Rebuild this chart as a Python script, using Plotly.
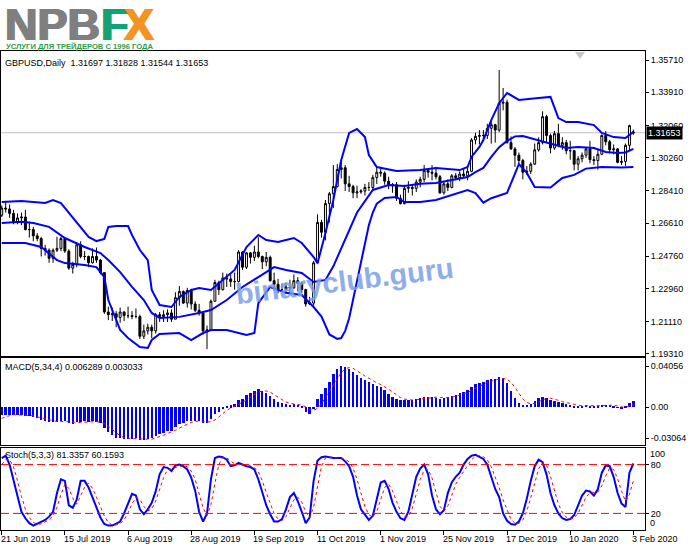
import plotly.graph_objects as go

# ---------------- data ----------------
date_tick_idx = [0, 16, 32, 48, 64, 80, 96, 112, 128, 144, 160]
date_labels = ["21 Jun 2019", "15 Jul 2019", "6 Aug 2019", "28 Aug 2019", "19 Sep 2019",
               "11 Oct 2019", "1 Nov 2019", "25 Nov 2019", "17 Dec 2019", "10 Jan 2020", "3 Feb 2020"]

price_ticks = [1.35710, 1.33910, 1.32060, 1.30260, 1.28410, 1.26610, 1.24760, 1.22960, 1.21110, 1.19310]

ohlc_rows = [
    (1.2705, 1.2760, 1.2695, 1.2745), (1.2745, 1.2785, 1.2720, 1.2740), (1.2740, 1.2765, 1.2690, 1.2715),
    (1.2715, 1.2735, 1.2655, 1.2665), (1.2665, 1.2715, 1.2655, 1.2690), (1.2690, 1.2720, 1.2650, 1.2695),
    (1.2695, 1.2735, 1.2620, 1.2625), (1.2625, 1.2670, 1.2580, 1.2625), (1.2625, 1.2640, 1.2560, 1.2590),
    (1.2590, 1.2605, 1.2560, 1.2575), (1.2575, 1.2585, 1.2475, 1.2520), (1.2520, 1.2540, 1.2480, 1.2510),
    (1.2510, 1.2520, 1.2440, 1.2465), (1.2465, 1.2520, 1.2440, 1.2510), (1.2510, 1.2585, 1.2500, 1.2520),
    (1.2520, 1.2585, 1.2505, 1.2575), (1.2575, 1.2580, 1.2495, 1.2505), (1.2505, 1.2515, 1.2400, 1.2410),
    (1.2410, 1.2445, 1.2380, 1.2430), (1.2430, 1.2555, 1.2415, 1.2540), (1.2540, 1.2560, 1.2465, 1.2475),
    (1.2475, 1.2505, 1.2455, 1.2475), (1.2475, 1.2480, 1.2415, 1.2440), (1.2440, 1.2520, 1.2435, 1.2475),
    (1.2475, 1.2525, 1.2440, 1.2455), (1.2455, 1.2460, 1.2375, 1.2385), (1.2385, 1.2385, 1.2155, 1.2165),
    (1.2165, 1.2195, 1.2120, 1.2150), (1.2150, 1.2190, 1.2115, 1.2155), (1.2155, 1.2170, 1.2080, 1.2135),
    (1.2135, 1.2190, 1.2105, 1.2165), (1.2165, 1.2170, 1.2115, 1.2145), (1.2145, 1.2195, 1.2130, 1.2145),
    (1.2145, 1.2170, 1.2125, 1.2140), (1.2140, 1.2185, 1.2130, 1.2140), (1.2140, 1.2150, 1.2015, 1.2030),
    (1.2030, 1.2095, 1.2015, 1.2060), (1.2060, 1.2100, 1.2040, 1.2080), (1.2080, 1.2095, 1.2020, 1.2060),
    (1.2060, 1.2160, 1.2045, 1.2150), (1.2150, 1.2165, 1.2110, 1.2140), (1.2140, 1.2175, 1.2110, 1.2150),
    (1.2150, 1.2180, 1.2110, 1.2160), (1.2160, 1.2180, 1.2110, 1.2125), (1.2125, 1.2275, 1.2125, 1.2245),
    (1.2245, 1.2310, 1.2200, 1.2280), (1.2280, 1.2285, 1.2210, 1.2215), (1.2215, 1.2300, 1.2190, 1.2285),
    (1.2285, 1.2295, 1.2180, 1.2210), (1.2210, 1.2225, 1.2165, 1.2175), (1.2175, 1.2210, 1.2145, 1.2160),
    (1.2160, 1.2165, 1.2040, 1.2060), (1.2060, 1.2090, 1.1958, 1.2065), (1.2065, 1.2235, 1.2060, 1.2225),
    (1.2225, 1.2345, 1.2225, 1.2330), (1.2330, 1.2340, 1.2260, 1.2290), (1.2290, 1.2385, 1.2285, 1.2355),
    (1.2355, 1.2380, 1.2305, 1.2350), (1.2350, 1.2375, 1.2305, 1.2335), (1.2335, 1.2385, 1.2290, 1.2335),
    (1.2335, 1.2510, 1.2330, 1.2500), (1.2500, 1.2505, 1.2400, 1.2415), (1.2415, 1.2500, 1.2405, 1.2495),
    (1.2495, 1.2500, 1.2435, 1.2470), (1.2470, 1.2535, 1.2450, 1.2500), (1.2500, 1.2582, 1.2465, 1.2475),
    (1.2475, 1.2480, 1.2405, 1.2445), (1.2445, 1.2500, 1.2420, 1.2470), (1.2470, 1.2480, 1.2335, 1.2340),
    (1.2340, 1.2385, 1.2285, 1.2320), (1.2320, 1.2350, 1.2270, 1.2290), (1.2290, 1.2325, 1.2275, 1.2290),
    (1.2290, 1.2330, 1.2265, 1.2305), (1.2305, 1.2345, 1.2260, 1.2300), (1.2300, 1.2375, 1.2295, 1.2340),
    (1.2340, 1.2360, 1.2280, 1.2325), (1.2325, 1.2335, 1.2270, 1.2290), (1.2290, 1.2295, 1.2195, 1.2210),
    (1.2210, 1.2250, 1.2205, 1.2215), (1.2215, 1.2450, 1.2200, 1.2440), (1.2440, 1.2710, 1.2435, 1.2665),
    (1.2665, 1.2680, 1.2580, 1.2610), (1.2610, 1.2790, 1.2565, 1.2770), (1.2770, 1.2835, 1.2665, 1.2825),
    (1.2825, 1.2985, 1.2745, 1.2865), (1.2865, 1.2990, 1.2860, 1.2960), (1.2960, 1.3012, 1.2910, 1.2970),
    (1.2970, 1.2985, 1.2840, 1.2880), (1.2880, 1.2925, 1.2835, 1.2865), (1.2865, 1.2875, 1.2800, 1.2830),
    (1.2830, 1.2870, 1.2800, 1.2835), (1.2835, 1.2850, 1.2825, 1.2840), (1.2840, 1.2880, 1.2815, 1.2860),
    (1.2860, 1.2890, 1.2840, 1.2860), (1.2860, 1.2930, 1.2840, 1.2915), (1.2915, 1.2975, 1.2880, 1.2945),
    (1.2945, 1.2975, 1.2920, 1.2940), (1.2940, 1.2950, 1.2875, 1.2895), (1.2895, 1.2920, 1.2850, 1.2870),
    (1.2870, 1.2885, 1.2830, 1.2875), (1.2875, 1.2890, 1.2785, 1.2800), (1.2800, 1.2820, 1.2765, 1.2770),
    (1.2770, 1.2875, 1.2765, 1.2855), (1.2855, 1.2895, 1.2830, 1.2860), (1.2860, 1.2875, 1.2815, 1.2855),
    (1.2855, 1.2905, 1.2835, 1.2890), (1.2890, 1.2920, 1.2860, 1.2905), (1.2905, 1.2985, 1.2890, 1.2955),
    (1.2955, 1.2965, 1.2915, 1.2945), (1.2945, 1.2985, 1.2900, 1.2940), (1.2940, 1.2975, 1.2905, 1.2920),
    (1.2920, 1.2930, 1.2825, 1.2830), (1.2830, 1.2895, 1.2820, 1.2880), (1.2880, 1.2905, 1.2840, 1.2860),
    (1.2860, 1.2935, 1.2855, 1.2925), (1.2925, 1.2940, 1.2900, 1.2915), (1.2915, 1.2950, 1.2895, 1.2935),
    (1.2935, 1.2965, 1.2915, 1.2925), (1.2925, 1.2980, 1.2900, 1.2950), (1.2950, 1.3135, 1.2945, 1.3125),
    (1.3125, 1.3165, 1.3100, 1.3145), (1.3145, 1.3180, 1.3100, 1.3150), (1.3150, 1.3180, 1.3125, 1.3150),
    (1.3150, 1.3215, 1.3130, 1.3190), (1.3190, 1.3230, 1.3105, 1.3210), (1.3210, 1.3215, 1.3110, 1.3180),
    (1.3180, 1.3515, 1.3170, 1.3330), (1.3330, 1.3415, 1.3290, 1.3335), (1.3335, 1.3350, 1.3105, 1.3110),
    (1.3110, 1.3145, 1.3070, 1.3075), (1.3075, 1.3085, 1.2975, 1.3040), (1.3040, 1.3055, 1.2995, 1.3010),
    (1.3010, 1.3020, 1.2905, 1.2945), (1.2945, 1.2980, 1.2930, 1.2950), (1.2950, 1.3000, 1.2935, 1.2990),
    (1.2990, 1.3105, 1.2985, 1.3070), (1.3070, 1.3140, 1.3060, 1.3110), (1.3110, 1.3285, 1.3100, 1.3255),
    (1.3255, 1.3265, 1.3115, 1.3150), (1.3150, 1.3160, 1.3050, 1.3080), (1.3080, 1.3175, 1.3070, 1.3160),
    (1.3160, 1.3215, 1.3085, 1.3095), (1.3095, 1.3140, 1.3070, 1.3110), (1.3110, 1.3125, 1.3045, 1.3065),
    (1.3065, 1.3120, 1.3015, 1.3065), (1.3065, 1.3070, 1.2955, 1.2990), (1.2990, 1.3035, 1.2955, 1.3020),
    (1.3020, 1.3055, 1.3000, 1.3040), (1.3040, 1.3085, 1.3025, 1.3075), (1.3075, 1.3120, 1.2995, 1.3015),
    (1.3015, 1.3035, 1.2985, 1.3010), (1.3010, 1.3070, 1.2960, 1.3045), (1.3045, 1.3155, 1.3040, 1.3150),
    (1.3150, 1.3175, 1.3095, 1.3115), (1.3115, 1.3125, 1.3050, 1.3070), (1.3070, 1.3100, 1.3045, 1.3075),
    (1.3075, 1.3080, 1.2995, 1.3000), (1.3000, 1.3035, 1.2985, 1.3005), (1.3005, 1.3105, 1.2980, 1.3095),
    (1.3095, 1.3210, 1.3065, 1.3205), (1.31697, 1.31828, 1.31544, 1.31653),
]
opens = [r[0] for r in ohlc_rows]
highs = [r[1] for r in ohlc_rows]
lows = [r[2] for r in ohlc_rows]
closes = [r[3] for r in ohlc_rows]
bar_idx = list(range(len(ohlc_rows)))

bb_upper_idx = [0, 5, 11, 13, 15, 17, 20, 22, 24, 26, 27, 29, 32, 33, 35, 37, 38, 40, 43, 45,
                48, 50, 53, 55, 59, 62, 65, 67, 70, 74, 76, 79, 80, 82, 84, 86, 88, 90, 92, 93,
                95, 100, 106, 110, 116, 118, 119, 121, 122, 124, 126, 128, 131, 136, 139, 141, 143, 146, 150, 152,
                155, 158, 160]
bb_upper = [1.2779, 1.2785, 1.2773, 1.2790, 1.2773, 1.2718, 1.2640, 1.2584, 1.2561, 1.2573,
            1.2640, 1.2645, 1.2645, 1.2595, 1.2511, 1.2455, 1.2288, 1.2204, 1.2193, 1.2249,
            1.2288, 1.2299, 1.2288, 1.2327, 1.2400, 1.2528, 1.2595, 1.2567, 1.2556, 1.2578,
            1.2550, 1.2472, 1.2438, 1.2606, 1.2790, 1.3013, 1.3164, 1.3186, 1.3141, 1.3041,
            1.2974, 1.2952, 1.2957, 1.2969, 1.2957, 1.2974, 1.3030, 1.3086, 1.3125, 1.3236,
            1.3330, 1.3387, 1.3348, 1.3359, 1.3365, 1.3247, 1.3225, 1.3225, 1.3208, 1.3164,
            1.3141, 1.3136, 1.3170]

bb_mid_idx = [0, 5, 8, 12, 16, 21, 25, 27, 30, 33, 36, 38, 40, 45, 50, 53, 57, 61, 65, 69,
              72, 76, 79, 82, 84, 86, 88, 90, 94, 98, 102, 106, 110, 114, 118, 120, 122, 124, 126, 128,
              130, 132, 134, 136, 140, 143, 146, 150, 153, 156, 158, 160]
bb_mid = [1.2662, 1.2668, 1.2662, 1.2640, 1.2578, 1.2528, 1.2494, 1.2455, 1.2388, 1.2305,
          1.2232, 1.2160, 1.2132, 1.2138, 1.2160, 1.2176, 1.2232, 1.2305, 1.2360, 1.2416,
          1.2400, 1.2383, 1.2333, 1.2344, 1.2420, 1.2520, 1.2620, 1.2720, 1.2846, 1.2874,
          1.2868, 1.2880, 1.2885, 1.2902, 1.2918, 1.2946, 1.2969, 1.3030, 1.3085, 1.3120,
          1.3145, 1.3147, 1.3135, 1.3119, 1.3097, 1.3080, 1.3086, 1.3080, 1.3058, 1.3052,
          1.3055, 1.3075]

bb_lower_idx = [0, 6, 10, 14, 16, 21, 24, 26, 27, 30, 32, 35, 37, 38, 40, 45, 48, 51, 53, 57,
                62, 64, 65, 68, 72, 76, 79, 81, 83, 85, 86, 87, 88, 89, 90, 91, 92, 93, 94, 95,
                97, 100, 102, 106, 110, 114, 118, 120, 122, 124, 128, 131, 133, 135, 139, 142, 145, 148, 152, 157,
                160]
bb_lower = [1.2550, 1.2550, 1.2528, 1.2455, 1.2438, 1.2427, 1.2416, 1.2360, 1.2232, 1.2065,
            1.2020, 1.1970, 1.1965, 1.2009, 1.2043, 1.2048, 1.2009, 1.2048, 1.2065, 1.2065,
            1.2037, 1.2048, 1.2215, 1.2305, 1.2272, 1.2260, 1.2193, 1.2140, 1.2040, 1.2015,
            1.2020, 1.2060, 1.2130, 1.2230, 1.2330, 1.2440, 1.2550, 1.2650, 1.2720, 1.2770,
            1.2801, 1.2807, 1.2779, 1.2779, 1.2790, 1.2818, 1.2846, 1.2829, 1.2775, 1.2800,
            1.2830, 1.2990, 1.2941, 1.2863, 1.2860, 1.2913, 1.2930, 1.2965, 1.2974, 1.2972,
            1.2974]

macd_hist = [
    -0.0075, -0.0073, -0.0072, -0.0076, -0.0075, -0.0073, -0.0082, -0.0088, -0.0098, -0.0108,
    -0.0122, -0.0132, -0.0146, -0.0144, -0.0142, -0.0132, -0.0138, -0.0156, -0.0162, -0.0144,
    -0.0142, -0.0140, -0.0144, -0.0140, -0.0142, -0.0156, -0.0205, -0.0245, -0.0275, -0.0300,
    -0.0305, -0.0310, -0.0310, -0.0310, -0.0305, -0.0325, -0.0320, -0.0310, -0.0305, -0.0280,
    -0.0265, -0.0250, -0.0235, -0.0230, -0.0195, -0.0165, -0.0158, -0.0135, -0.0135, -0.0135,
    -0.0135, -0.0158, -0.0160, -0.0115, -0.0065, -0.0045, -0.0015, 0.0005, 0.0018, 0.0028,
    0.0072, 0.0078, 0.0120, 0.0140, 0.0160, 0.0175, 0.0160, 0.0145, 0.0110, 0.0080,
    0.0055, 0.0040, 0.0030, 0.0025, 0.0030, 0.0025, 0.0005, -0.0050, -0.0065, -0.0010,
    0.0080, 0.0130, 0.0190, 0.0250, 0.0330, 0.0380, 0.0405, 0.0400, 0.0375, 0.0350,
    0.0320, 0.0290, 0.0270, 0.0250, 0.0230, 0.0210, 0.0200, 0.0170, 0.0130, 0.0100,
    0.0080, 0.0070, 0.0070, 0.0070, 0.0075, 0.0085, 0.0090, 0.0100, 0.0100, 0.0100,
    0.0095, 0.0085, 0.0090, 0.0105, 0.0110, 0.0125, 0.0140, 0.0150, 0.0170, 0.0200,
    0.0230, 0.0240, 0.0250, 0.0265, 0.0275, 0.0280, 0.0295, 0.0290, 0.0240, 0.0160,
    0.0095, 0.0045, 0.0025, 0.0025, 0.0035, 0.0065, 0.0090, 0.0105, 0.0090, 0.0070,
    0.0060, 0.0050, 0.0040, 0.0030, 0.0025, 0.0015, 0.0010, 0.0015, 0.0020, 0.0015,
    0.0010, 0.0010, 0.0025, 0.0025, 0.0020, 0.0010, -0.0005, -0.0015, 0.0015, 0.0045,
    0.006289,
]
macd_signal = [
    -0.0110, -0.0095, -0.0083, -0.0074, -0.0074, -0.0074, -0.0077, -0.0080, -0.0085, -0.0094,
    -0.0104, -0.0115, -0.0127, -0.0136, -0.0141, -0.0141, -0.0139, -0.0142, -0.0147, -0.0150,
    -0.0151, -0.0147, -0.0143, -0.0142, -0.0142, -0.0146, -0.0161, -0.0187, -0.0220, -0.0256,
    -0.0281, -0.0298, -0.0306, -0.0309, -0.0309, -0.0313, -0.0315, -0.0315, -0.0315, -0.0304,
    -0.0290, -0.0275, -0.0258, -0.0245, -0.0228, -0.0206, -0.0187, -0.0163, -0.0148, -0.0141,
    -0.0135, -0.0141, -0.0147, -0.0142, -0.0125, -0.0096, -0.0060, -0.0030, -0.0009, 0.0009,
    0.0031, 0.0049, 0.0075, 0.0103, 0.0125, 0.0149, 0.0159, 0.0160, 0.0148, 0.0124,
    0.0098, 0.0071, 0.0051, 0.0038, 0.0031, 0.0028, 0.0021, 0.0003, -0.0021, -0.0030,
    -0.0011, 0.0034, 0.0098, 0.0163, 0.0225, 0.0288, 0.0341, 0.0379, 0.0390, 0.0383,
    0.0361, 0.0334, 0.0308, 0.0283, 0.0260, 0.0240, 0.0223, 0.0203, 0.0178, 0.0150,
    0.0120, 0.0095, 0.0080, 0.0073, 0.0071, 0.0075, 0.0080, 0.0088, 0.0094, 0.0098,
    0.0099, 0.0095, 0.0093, 0.0094, 0.0098, 0.0108, 0.0120, 0.0131, 0.0146, 0.0165,
    0.0188, 0.0210, 0.0230, 0.0246, 0.0258, 0.0268, 0.0279, 0.0285, 0.0276, 0.0246,
    0.0196, 0.0135, 0.0081, 0.0048, 0.0033, 0.0038, 0.0054, 0.0074, 0.0088, 0.0089,
    0.0081, 0.0068, 0.0055, 0.0045, 0.0036, 0.0028, 0.0020, 0.0016, 0.0015, 0.0015,
    0.0015, 0.0014, 0.0015, 0.0018, 0.0020, 0.0020, 0.0013, 0.0003, 0.0001, 0.0010,
    0.003033,
]
macd_ticks = [0.04056, 0.0, -0.03064]
macd_tick_text = ["0.04056", "0.00", "-0.03064"]

stoch_k = [
    88, 91, 80, 60, 40, 22, 14, 8, 5, 7, 9, 12, 16, 22, 45, 62, 60, 30, 27, 37,
    60, 60, 52, 40, 28, 15, 7, 5, 5, 7, 10, 20, 32, 44, 42, 25, 19, 25, 33, 47,
    68, 77, 76, 72, 79, 80, 78, 74, 64, 48, 22, 10, 20, 62, 88, 90, 89, 86, 78, 79,
    82, 80, 78, 77, 74, 62, 45, 30, 19, 10, 10, 13, 25, 40, 45, 35, 22, 8, 15, 60,
    85, 89, 90, 89, 88, 88, 88, 84, 78, 65, 42, 25, 18, 12, 17, 38, 58, 60, 50, 33,
    22, 14, 12, 22, 45, 65, 75, 80, 68, 42, 25, 19, 24, 45, 58, 65, 70, 80, 87, 91,
    92, 90, 87, 80, 65, 50, 40, 20, 11, 7, 6, 10, 20, 38, 60, 78, 86, 83, 68, 45,
    30, 20, 14, 12, 13, 18, 30, 42, 48, 47, 42, 50, 70, 79, 78, 65, 45, 32, 28, 70,
    81.3357,
]
stoch_d = [
    80, 86, 86.3, 77, 60, 40.7, 25.3, 14.7, 9, 6.7, 7, 9.3, 12.3, 16.7, 27.7, 43, 55.7, 50.7, 39, 31.3,
    41.3, 52.3, 57.3, 50.7, 40, 27.7, 16.7, 9, 5.7, 5.7, 7.3, 12.3, 20.7, 32, 39.3, 37, 28.7, 23, 25.7, 35,
    49.3, 64, 73.7, 75, 75.7, 77, 79, 77.3, 72, 62, 44.7, 26.7, 17.3, 30.7, 56.7, 80, 89, 88.3, 84.3, 81,
    79.7, 80.3, 80, 78.3, 76.3, 71, 60.3, 45.7, 31.3, 19.7, 13, 11, 16, 26, 36.7, 40, 34, 21.7, 15, 27.7,
    53.3, 78, 88, 89.3, 89, 88.3, 88, 86.7, 83.3, 75.7, 61.7, 44, 28.3, 18.3, 15.7, 22.3, 37.7, 52, 56, 47.7,
    35, 23, 16, 16, 26.3, 44, 61.7, 73.3, 74.3, 63.3, 45, 28.7, 22.7, 29.3, 42.3, 56, 64.3, 71.7, 79, 86,
    90, 91, 89.7, 85.7, 77.3, 65, 51.7, 36.7, 23.7, 12.7, 8, 7.7, 12, 22.7, 39.3, 58.7, 74.7, 82.3, 79, 65.3,
    47.7, 31.7, 21.3, 15.3, 13, 14.3, 20.3, 30, 40, 45.7, 45.7, 46.3, 54, 66.3, 75.7, 74, 62.7, 47.3, 35, 43.3,
    60.1593,
]
stoch_levels = [80, 20]

current_price = 1.31653
header_main = "GBPUSD,Daily  1.31697 1.31828 1.31544 1.31653"
header_macd = "MACD(5,34,4) 0.006289 0.003033"
header_stoch = "Stoch(5,3,3) 81.3357 60.1593"
logo_parts = [("NPB", "#7f7f7f", 3), ("F", "#13a275", 99), ("X", "#f39422", 122)]
tagline = "УСЛУГИ ДЛЯ ТРЕЙДЕРОВ С 1996 ГОДА"
watermark = "binaryclub.guru"

# ---------------- layout helpers (pixel geometry) ----------------
W, H = 691, 549
PL, PR, PT, PB = 1, 645, 51, 530
def pxx(p):
    return (p - PL) / (PR - PL)
def pxy(p):
    return (PB - p) / (PB - PT)

X_RANGE = [-0.18, 162.94]
FONT = "Liberation Sans, Arial, sans-serif"
BLUE = "#0000ff"
RED = "#ff0000"

fig = go.Figure()

fig.add_trace(go.Candlestick(
    x=bar_idx, open=opens, high=highs, low=lows, close=closes,
    increasing=dict(line=dict(color="black", width=1), fillcolor="white"),
    decreasing=dict(line=dict(color="black", width=1), fillcolor="black"),
    whiskerwidth=0, hoverinfo="skip", showlegend=False, xaxis="x", yaxis="y"))

for idx, vals in ((bb_upper_idx, bb_upper), (bb_mid_idx, bb_mid), (bb_lower_idx, bb_lower)):
    fig.add_trace(go.Scatter(x=idx, y=vals, mode="lines", line=dict(color=BLUE, width=2),
                             hoverinfo="skip", showlegend=False, xaxis="x", yaxis="y"))

fig.add_trace(go.Bar(x=bar_idx, y=macd_hist, marker=dict(color=BLUE, line=dict(width=0)),
                     width=0.6, hoverinfo="skip", showlegend=False, xaxis="x2", yaxis="y2"))
fig.add_trace(go.Scatter(x=bar_idx, y=macd_signal, mode="lines",
                         line=dict(color=RED, width=1, dash="dot"),
                         hoverinfo="skip", showlegend=False, xaxis="x2", yaxis="y2"))

fig.add_trace(go.Scatter(x=bar_idx, y=stoch_k, mode="lines", line=dict(color=BLUE, width=2),
                         hoverinfo="skip", showlegend=False, xaxis="x3", yaxis="y3"))
fig.add_trace(go.Scatter(x=bar_idx, y=stoch_d, mode="lines",
                         line=dict(color=RED, width=1, dash="dot"),
                         hoverinfo="skip", showlegend=False, xaxis="x3", yaxis="y3"))

axis_common = dict(showline=True, linecolor="black", linewidth=1, mirror=True,
                   showgrid=False, zeroline=False, fixedrange=True)
xcommon = dict(axis_common, range=X_RANGE, domain=[0, 1])
ycommon = dict(axis_common, side="right", ticks="outside", ticklen=3, tickcolor="black",
               tickfont=dict(family=FONT, size=9, color="black"))

shapes = []
for lv in stoch_levels:
    shapes.append(dict(type="line", xref="paper", x0=0, x1=1, yref="y3", y0=lv, y1=lv,
                       line=dict(color=RED, width=1, dash="8px,4px"), layer="above"))
shapes.append(dict(type="line", xref="paper", x0=0, x1=1, yref="y", y0=current_price, y1=current_price,
                   line=dict(color="#c0c0c0", width=1), layer="below"))
shapes.append(dict(type="path", xref="paper", yref="paper",
                   path="M %f %f L %f %f L %f %f Z" % (pxx(575), pxy(52), pxx(585), pxy(52), pxx(580), pxy(59)),
                   fillcolor="#c8c8c8", line=dict(width=0)))

ann = []
def text_ann(txt, x, y, size=9, color="black", xanchor="left", **kw):
    d = dict(text=txt, xref="paper", yref="paper", x=pxx(x), y=pxy(y), xanchor=xanchor,
             yanchor="middle", showarrow=False, borderpad=0,
             font=dict(family=FONT, size=size, color=color))
    d.update(kw)
    return d

ann.append(text_ann(header_main, 4, 63))
ann.append(text_ann(header_macd, 4, 367))
ann.append(text_ann(header_stoch, 4, 455))
for i, lab in zip(date_tick_idx, date_labels):
    ann.append(dict(text=lab, xref="x3", yref="paper", x=i, y=pxy(539), xanchor="left", yanchor="middle",
                    xshift=-2, showarrow=False, borderpad=0, font=dict(family=FONT, size=9, color="black")))
ann.append(text_ann("100", 649, 454))
ann.append(text_ann("0", 649, 523))
ann.append(dict(text="1.31653", xref="paper", yref="y", x=1, y=current_price, xanchor="left", yanchor="middle",
                xshift=1, showarrow=False, bgcolor="black", borderpad=1,
                font=dict(family=FONT, size=9, color="white")))
# logo: heavy letters via a same-coloured text shadow
for txt, col, xpos in logo_parts:
    ann.append(dict(text="<b>%s</b>" % txt, xref="paper", yref="paper", x=pxx(xpos), y=pxy(24),
                    xanchor="left", yanchor="middle", showarrow=False, borderpad=0,
                    font=dict(family=FONT, size=45, color=col,
                              shadow="1px 0px 0px %s, 2px 0px 0px %s" % (col, col))))
ann.append(text_ann("<b>%s</b>" % tagline, 5, 46, size=7.6, color="#2f9e48"))
ann.append(dict(text="<b>%s</b>" % watermark, xref="paper", yref="paper", x=pxx(344), y=pxy(281),
                xanchor="center", yanchor="middle", showarrow=False, textangle=-7, opacity=0.85,
                font=dict(family=FONT, size=29, color="#7b9fe6")))

main_dom = [pxy(356), 1.0]
macd_dom = [pxy(445), pxy(358)]
stoch_dom = [0.0, pxy(448)]

fig.update_layout(
    width=W, height=H, autosize=False,
    margin=dict(l=PL, r=W - PR, t=PT, b=H - PB, pad=0),
    paper_bgcolor="white", plot_bgcolor="white",
    showlegend=False, bargap=0,
    xaxis=dict(xcommon, anchor="y", showticklabels=False, ticks="", rangeslider=dict(visible=False)),
    xaxis2=dict(xcommon, anchor="y2", matches="x", showticklabels=False, ticks=""),
    xaxis3=dict(xcommon, anchor="y3", matches="x", showticklabels=False, ticks="outside", ticklen=4,
                tickcolor="black", tickvals=date_tick_idx),
    yaxis=dict(ycommon, domain=main_dom, range=[1.19198, 1.36212], tickvals=price_ticks,
               ticktext=["%.5f" % v for v in price_ticks]),
    yaxis2=dict(ycommon, domain=macd_dom, range=[-0.0372, 0.0485], tickvals=macd_ticks,
                ticktext=macd_tick_text),
    yaxis3=dict(ycommon, domain=stoch_dom, range=[-0.4, 100.4], tickvals=stoch_levels,
                ticktext=[str(v) for v in stoch_levels]),
    shapes=shapes, annotations=ann,
)

fig.write_html("out.html", config={"displayModeBar": False},
               post_script="document.body.style.margin='0px';document.body.style.overflow='hidden';")
